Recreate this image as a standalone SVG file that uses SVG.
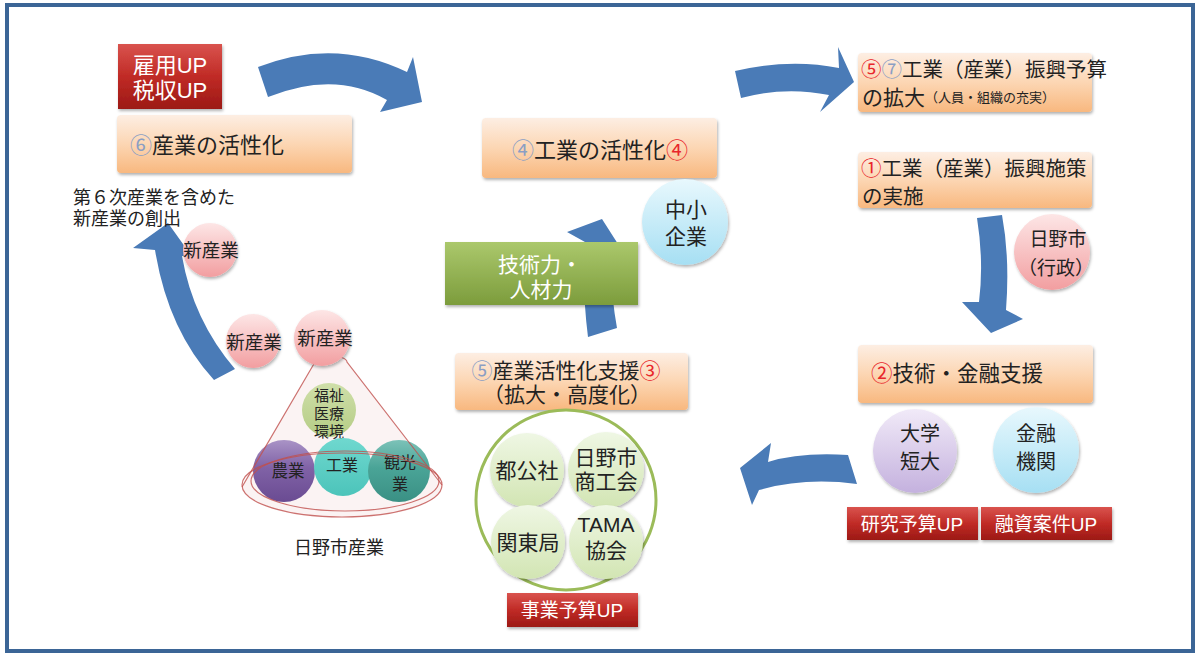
<svg xmlns="http://www.w3.org/2000/svg" width="1197" height="657" viewBox="0 0 1197 657">
<defs>
<linearGradient id="gOr" x1="0" y1="0" x2="0" y2="1"><stop offset="0" stop-color="#fdeee3"/><stop offset="0.5" stop-color="#fcd6b3"/><stop offset="1" stop-color="#f8b87f"/></linearGradient>
<linearGradient id="gRed" x1="0" y1="0" x2="0" y2="1"><stop offset="0" stop-color="#d9534e"/><stop offset="0.5" stop-color="#c02b26"/><stop offset="1" stop-color="#9c1915"/></linearGradient>
<linearGradient id="gGrn" x1="0" y1="0" x2="0" y2="1"><stop offset="0" stop-color="#abc86c"/><stop offset="1" stop-color="#7c9c3c"/></linearGradient>
<linearGradient id="gBlu" x1="0" y1="0" x2="0" y2="1"><stop offset="0" stop-color="#e8f8fd"/><stop offset="1" stop-color="#a6dff3"/></linearGradient>
<linearGradient id="gPnk" x1="0" y1="0" x2="0" y2="1"><stop offset="0" stop-color="#fde6e6"/><stop offset="1" stop-color="#f29ea0"/></linearGradient>
<linearGradient id="gLav" x1="0" y1="0" x2="0" y2="1"><stop offset="0" stop-color="#f1eaf8"/><stop offset="1" stop-color="#c4b1de"/></linearGradient>
<linearGradient id="gLg" x1="0" y1="0" x2="0" y2="1"><stop offset="0" stop-color="#eff7e4"/><stop offset="1" stop-color="#d2e5b3"/></linearGradient>
<linearGradient id="gOl" x1="0" y1="0" x2="0" y2="1"><stop offset="0" stop-color="#cfdfa9"/><stop offset="1" stop-color="#b5cc85"/></linearGradient>
<linearGradient id="gPur" x1="0" y1="0" x2="0" y2="1"><stop offset="0" stop-color="#a993c6"/><stop offset="0.45" stop-color="#8062a6"/><stop offset="1" stop-color="#6a4b92"/></linearGradient>
<linearGradient id="gTq" x1="0" y1="0" x2="0" y2="1"><stop offset="0" stop-color="#6fd8cf"/><stop offset="1" stop-color="#4cc4ba"/></linearGradient>
<linearGradient id="gTd" x1="0" y1="0" x2="0" y2="1"><stop offset="0" stop-color="#7cc2b8"/><stop offset="0.45" stop-color="#4aa497"/><stop offset="1" stop-color="#3a9084"/></linearGradient>
<filter id="sh" x="-10%" y="-10%" width="125%" height="130%"><feDropShadow dx="1" dy="2" stdDeviation="1.5" flood-color="#000" flood-opacity="0.3"/></filter>
</defs>
<style>
text{font-family:"Liberation Sans","Noto Sans CJK JP","Noto Sans CJK SC",sans-serif;fill:#222;dominant-baseline:central}
.box{fill:url(#gOr);filter:url(#sh)}
.red{fill:url(#gRed);filter:url(#sh)}
.wt{fill:#fff}
.arw{fill:#4a7bb7}
.cn{fill:#8a9ec4}
.cr{fill:#e8262b}
.c{text-anchor:middle}
.lgc{fill:url(#gLg);filter:url(#sh)}
</style>
<rect x="0" y="0" width="1197" height="657" fill="#fff"/>
<rect id="frame" x="7" y="5" width="1186" height="646" fill="#fff" stroke="#3b6596" stroke-width="4"/>

<g id="connectors">
<path class="arw" d="M258,67 Q335,37 407,72 L413,57 L422,102 L380,112 L387,100 Q335,70 268,97 Z"/>
<path class="arw" d="M735,71 Q790,58 839,68 L838,47 L854,82 L820,112 L829,95 Q785,86 741,98 Z"/>
<path class="arw" d="M977,218 Q984,262 979,302 L962,302 L991,333 L1023,319 L1006,310 Q1010,258 1002,215 Z"/>
<path class="arw" d="M848,455 Q800,452 768,462 L771,443 L740,468 L752,505 L759,490 Q805,477 857,484 Z"/>
<path class="arw" d="M588,337 L617,328 Q610,290 612,255 L625,255 L602,219 L567,232 L585,242 Q582,290 588,337 Z"/>
<path class="arw" d="M214,380 Q168,330 155,250 L133,248 L168,223 L193,258 L182,256 Q193,320 235,369 Z"/>
</g>

<g id="n-koyou">
<rect class="red" x="118" y="44" width="104" height="65"/>
<text class="wt c" font-size="22"><tspan x="170" y="65">雇用UP</tspan><tspan x="170" y="90">税収UP</tspan></text>
</g>

<g id="n-sangyo-kasseika">
<rect class="box" x="117" y="115" width="235" height="58" rx="4"/>
<text x="130" y="145" font-size="22"><tspan class="cn">⑥</tspan>産業の活性化</text>
</g>

<g id="n-dai6ji">
<text font-size="18"><tspan x="73" y="198">第６次産業を含めた</tspan><tspan x="73" y="219">新産業の創出</tspan></text>
</g>

<g id="n-kogyo-kasseika">
<rect class="box" x="482" y="118" width="235" height="60" rx="4"/>
<text class="c" x="600" y="150" font-size="22"><tspan class="cn">④</tspan>工業の活性化<tspan class="cr">④</tspan></text>
</g>

<g id="n-chusho">
<circle cx="685" cy="222" r="43" fill="url(#gBlu)" filter="url(#sh)"/>
<text class="c" font-size="21"><tspan x="686" y="209">中小</tspan><tspan x="686" y="236">企業</tspan></text>
</g>

<g id="n-gijutsuryoku">
<rect x="445" y="242" width="193" height="63" fill="url(#gGrn)" filter="url(#sh)"/>
<text class="wt c" font-size="21"><tspan x="540" y="264">技術力・</tspan><tspan x="541" y="289">人材力</tspan></text>
</g>

<g id="n-yosan">
<rect class="box" x="858" y="53" width="234" height="59" rx="4"/>
<text font-size="20.5"><tspan x="861" y="69"><tspan class="cr">⑤</tspan><tspan class="cn">⑦</tspan>工業（産業）振興予算</tspan><tspan x="862" y="97" font-size="21">の拡大<tspan font-size="13">（人員・組織の充実）</tspan></tspan></text>
</g>

<g id="n-shisaku">
<rect class="box" x="858" y="152" width="234" height="56" rx="4"/>
<text font-size="20.5"><tspan x="861" y="168"><tspan class="cr">①</tspan>工業（産業）振興施策</tspan><tspan x="862" y="196">の実施</tspan></text>
</g>

<g id="n-hinoshi">
<circle cx="1052" cy="252" r="38" fill="url(#gPnk)" filter="url(#sh)"/>
<text class="c" font-size="19"><tspan x="1058" y="239">日野市</tspan><tspan x="1056" y="268">（行政）</tspan></text>
</g>

<g id="n-kinyu-shien">
<rect class="box" x="858" y="345" width="235" height="58" rx="4"/>
<text x="871" y="374" font-size="21.5"><tspan class="cr">②</tspan>技術・金融支援</text>
</g>

<g id="n-daigaku">
<circle cx="915" cy="451" r="42" fill="url(#gLav)" filter="url(#sh)"/>
<text class="c" font-size="20"><tspan x="920" y="434">大学</tspan><tspan x="920" y="462">短大</tspan></text>
</g>

<g id="n-kinyukikan">
<circle cx="1036" cy="450" r="43" fill="url(#gBlu)" filter="url(#sh)"/>
<text class="c" font-size="20"><tspan x="1036" y="434">金融</tspan><tspan x="1036" y="462">機関</tspan></text>
</g>

<g id="n-kenkyu">
<rect class="red" x="847" y="507" width="131" height="33"/>
<text class="wt c" x="912" y="524" font-size="19">研究予算UP</text>
</g>

<g id="n-yushi">
<rect class="red" x="981" y="507" width="131" height="33"/>
<text class="wt c" x="1046" y="524" font-size="19">融資案件UP</text>
</g>

<g id="n-shien">
<rect class="box" x="455" y="353" width="233" height="57" rx="4"/>
<text class="c" font-size="21"><tspan x="566" y="370"><tspan class="cn">⑤</tspan>産業活性化支援<tspan class="cr">③</tspan></tspan><tspan x="567" y="394">（拡大・高度化）</tspan></text>
</g>

<g id="n-shien-ring">
<circle cx="566" cy="500" r="90" fill="#fff" stroke="#9bbb59" stroke-width="3"/>
</g>
<g id="n-tokosha">
<circle class="lgc" cx="527" cy="470" r="37"/>
<text class="c" x="527" y="470" font-size="21">都公社</text>
</g>
<g id="n-shokokai">
<circle class="lgc" cx="606" cy="470" r="38"/>
<text class="c" font-size="21"><tspan x="606" y="457">日野市</tspan><tspan x="606" y="481">商工会</tspan></text>
</g>
<g id="n-kantokyoku">
<circle class="lgc" cx="528" cy="542" r="37"/>
<text class="c" x="528" y="542" font-size="21">関東局</text>
</g>
<g id="n-tama">
<circle class="lgc" cx="606" cy="542" r="37"/>
<text class="c" font-size="21"><tspan x="606" y="524">TAMA</tspan><tspan x="606" y="550">協会</tspan></text>
</g>

<g id="n-jigyo">
<rect class="red" x="507" y="593" width="131" height="34"/>
<text class="wt c" x="572" y="610" font-size="19">事業予算UP</text>
</g>

<g id="n-hino-sangyo">
<path d="M315,362 L242,487 A100,32 0 0 0 442,485 L347,362 A16,6 0 0 0 315,362 Z" fill="#f6e4e4" fill-opacity="0.45"/>
<circle cx="329" cy="410" r="27" fill="url(#gOl)"/>
<text class="c" font-size="15"><tspan x="329" y="395">福祉</tspan><tspan x="329" y="413">医療</tspan><tspan x="329" y="431">環境</tspan></text>
<circle cx="284" cy="471" r="31" fill="url(#gPur)"/>
<circle cx="343" cy="467" r="29" fill="url(#gTq)"/>
<circle cx="399" cy="471" r="31" fill="url(#gTd)"/>
<text class="c" x="288" y="471" font-size="16.5">農業</text>
<text class="c" x="342" y="465" font-size="16">工業</text>
<text class="c" font-size="16"><tspan x="400" y="462">観光</tspan><tspan x="400" y="484">業</tspan></text>
<path d="M315,362 L242,487 M442,485 L347,362 A16,6 0 0 0 315,362" fill="none" stroke="#c0504d" stroke-width="1.2" stroke-opacity="0.8"/>
<ellipse cx="342" cy="485" rx="100" ry="32" fill="none" stroke="#c0504d" stroke-width="1.2" stroke-opacity="0.8"/>
<ellipse cx="345" cy="481" rx="94" ry="30" fill="none" stroke="#c0504d" stroke-width="1.2" stroke-opacity="0.8"/>
<text class="c" x="339" y="548" font-size="18">日野市産業</text>
</g>

<g id="n-shinsangyo1">
<circle cx="210" cy="250" r="27" fill="url(#gPnk)" filter="url(#sh)"/>
<text class="c" x="211" y="250" font-size="18.5">新産業</text>
</g>
<g id="n-shinsangyo2">
<circle cx="253" cy="341" r="27" fill="url(#gPnk)" filter="url(#sh)"/>
<text class="c" x="254" y="342" font-size="18.5">新産業</text>
</g>
<g id="n-shinsangyo3">
<circle cx="322" cy="338" r="28" fill="url(#gPnk)" filter="url(#sh)"/>
<text class="c" x="325" y="338" font-size="18.5">新産業</text>
</g>
</svg>
